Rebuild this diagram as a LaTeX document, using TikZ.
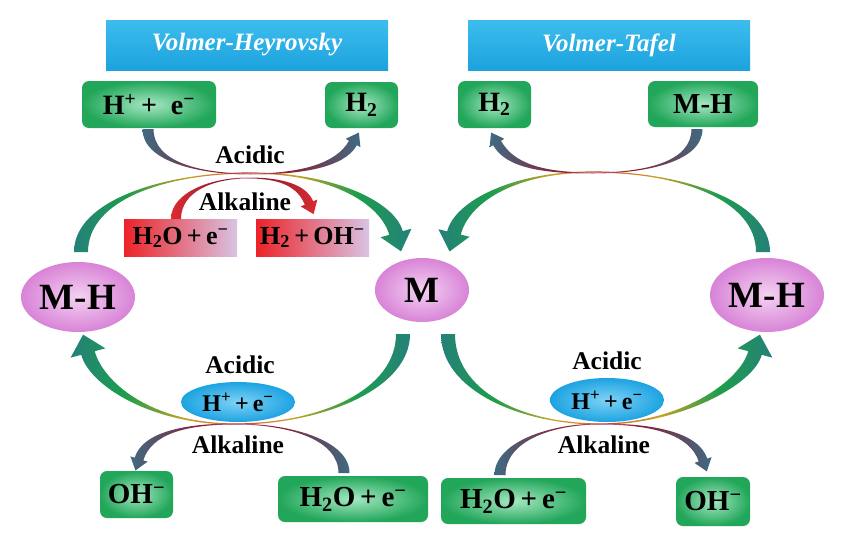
\documentclass[tikz,border=0pt]{standalone}
\usepackage{fontspec}
\setmainfont{Liberation Serif}
\usetikzlibrary{calc,shapes.geometric}

\definecolor{tealA}{HTML}{25807A}
\definecolor{greenA}{HTML}{1C9E4C}
\definecolor{yellowA}{HTML}{C8A226}
\definecolor{orangeA}{HTML}{D07A2A}
\definecolor{redA}{HTML}{B8353A}
\definecolor{slateA}{HTML}{3E6B82}
\definecolor{maroonA}{HTML}{8E1E33}
\definecolor{pinkA}{HTML}{C87484}
\definecolor{redB}{HTML}{DC2A30}
\definecolor{gLight}{HTML}{A6E8C2}
\definecolor{gDark}{HTML}{22A65A}
\definecolor{rDark}{HTML}{EC2328}
\definecolor{rLight}{HTML}{D9C3E3}
\definecolor{pLight}{HTML}{F4D2F1}
\definecolor{pDark}{HTML}{D883D7}
\definecolor{bLight}{HTML}{7ED2F5}
\definecolor{bDark}{HTML}{1DA3E2}
\definecolor{tLight}{HTML}{3DBDEE}
\definecolor{tDark}{HTML}{1CA2DD}

\pgfdeclarehorizontalshading{bigarc}{100bp}{color(0bp)=(tealA); color(25bp)=(tealA); color(33bp)=(greenA); color(42bp)=(yellowA); color(47bp)=(orangeA); color(50bp)=(redA); color(53bp)=(orangeA); color(58bp)=(yellowA); color(67bp)=(greenA); color(75bp)=(tealA); color(100bp)=(tealA)}
\pgfdeclarehorizontalshading{smallarc}{100bp}{color(0bp)=(slateA); color(25bp)=(slateA); color(42bp)=(maroonA); color(50bp)=(pinkA); color(58bp)=(maroonA); color(75bp)=(slateA); color(100bp)=(slateA)}
\pgfdeclarehorizontalshading{redarc}{100bp}{color(0bp)=(redB); color(25bp)=(redB); color(44bp)=(maroonA); color(50bp)=(pinkA); color(56bp)=(maroonA); color(75bp)=(redB); color(100bp)=(redB)}

\newcommand{\arrowpts}[8]{%
  \coordinate (#1A) at #2; \coordinate (#1A1) at #3; \coordinate (#1B1) at #4;
  \coordinate (#1X) at #5; \coordinate (#1C1) at #6; \coordinate (#1N1) at #7;
  \coordinate (#1N) at #8;}

\newcommand{\taperpath}[6]{%
  ($(#1A)!#2!90:(#1A1)$) .. controls ($(#1A1)!#2!-90:(#1A)$) and ($(#1B1)!#3!90:(#1X)$) .. ($(#1X)!#3!90:(#1C1)$)
  .. controls ($(#1C1)!#3!-90:(#1X)$) and ($(#1N1)!#4!90:(#1N)$) .. ($(#1N)!#4!-90:(#1N1)$)
  -- ($(#1N)!#5!-90:(#1N1)$) -- ($(#1N)!#6!180:(#1N1)$) -- ($(#1N)!#5!90:(#1N1)$) -- ($(#1N)!#4!90:(#1N1)$)
  .. controls ($(#1N1)!#4!-90:(#1N)$) and ($(#1C1)!#3!90:(#1X)$) .. ($(#1X)!#3!-90:(#1C1)$)
  .. controls ($(#1B1)!#3!-90:(#1X)$) and ($(#1A1)!#2!90:(#1A)$) .. ($(#1A)!#2!-90:(#1A1)$) -- cycle}

\begin{document}
\begin{tikzpicture}[x=1pt,y=-1pt,
  gbox/.style={rounded corners=7pt, shade, inner color=gLight, outer color=gDark, inner sep=0pt, font=\bfseries\fontsize{28}{28}\selectfont},
  rbox/.style={shade, left color=rDark, right color=rLight, inner sep=0pt, minimum width=113pt, minimum height=37pt, font=\bfseries\fontsize{26}{26}\selectfont},
  pell/.style={ellipse, shade, inner color=pLight, outer color=pDark, inner sep=0pt, font=\bfseries\fontsize{37}{37}\selectfont},
  bell/.style={ellipse, shade, inner color=bLight, outer color=bDark, inner sep=0pt, minimum width=114pt, font=\bfseries\fontsize{24}{24}\selectfont},
  tbox/.style={shade, top color=tLight, bottom color=tDark, text=white, inner sep=0pt, minimum width=282pt, minimum height=50pt, font=\bfseries\itshape\fontsize{25}{25}\selectfont},
  lbl/.style={inner sep=0pt, font=\bfseries\fontsize{25.5}{25.5}\selectfont},
  bigarrow/.style={shade, shading=bigarc, shading angle=0},
  smallarrow/.style={shade, shading=smallarc, shading angle=0},
  redarrow/.style={shade, shading=redarc, shading angle=0}
]
\useasboundingbox (0,0) rectangle (844,547);
\fill[white] (0,0) rectangle (844,547);

% titles
\node[tbox] (t1) at (247,45) {Volmer-Heyrovsky};
\node[tbox] (t2) at (609,45) {Volmer-Tafel};

% green boxes top
\node[gbox, minimum width=134pt, minimum height=47pt] (gHe) at (149,104.5) {H\textsuperscript{+}\,+\ \ e\textsuperscript{−}};
\node[gbox, minimum width=73pt, minimum height=46pt] (gH2a) at (361.5,105) {H\textsubscript{2}};
\node[gbox, minimum width=73pt, minimum height=47pt] (gH2b) at (494.5,104.5) {H\textsubscript{2}};
\node[gbox, minimum width=110pt, minimum height=46pt, font=\bfseries\fontsize{29}{29}\selectfont] (gMH) at (703,104) {M-H};

% red boxes
\node[rbox] (rH2O) at (180.5,237.5) {H\textsubscript{2}O\,+\,e\textsuperscript{−}};
\node[rbox] (rH2OH) at (312.5,237.5) {H\textsubscript{2}\,+\,OH\textsuperscript{−}};

% ellipses
\node[pell, minimum width=114pt, minimum height=70pt] (MHl) at (78,297) {M-H};
\node[pell, minimum width=94pt, minimum height=64pt] (M) at (422,290) {M};
\node[pell, minimum width=114pt, minimum height=74pt] (MHr) at (767,295) {M-H};
\node[bell, minimum height=40pt] (BEl) at (238,402) {H\textsuperscript{+}\,+\,e\textsuperscript{−}};
\node[bell, minimum height=44pt] (BEr) at (607,400) {H\textsuperscript{+}\,+\,e\textsuperscript{−}};

% bottom green boxes
\node[gbox, minimum width=73pt, minimum height=47pt, font=\bfseries\fontsize{29}{29}\selectfont] (gOHa) at (136.5,494.5) {OH\textsuperscript{−}};
\node[gbox, minimum width=150pt, minimum height=46pt, font=\bfseries\fontsize{29}{29}\selectfont] (gH2Oa) at (353,499) {H\textsubscript{2}O\,+\,e\textsuperscript{−}};
\node[gbox, minimum width=145pt, minimum height=46pt, font=\bfseries\fontsize{29}{29}\selectfont] (gH2Ob) at (513.5,501) {H\textsubscript{2}O\,+\,e\textsuperscript{−}};
\node[gbox, minimum width=74pt, minimum height=49pt, font=\bfseries\fontsize{29}{29}\selectfont] (gOHb) at (713,501.5) {OH\textsuperscript{−}};

% labels
\node[lbl] (ac1) at (250,155) {Acidic};
\node[lbl] (al1) at (245,202) {Alkaline};
\node[lbl] (ac2) at (240,365) {Acidic};
\node[lbl] (al2) at (238,445) {Alkaline};
\node[lbl] (ac3) at (607,361) {Acidic};
\node[lbl] (al3) at (604,445) {Alkaline};

% arrows
\arrowpts{tlb}{(81,252)}{(81,200)}{(165,173)}{(250,173)}{(335,173)}{(388,204)}{(396,233)}
\path[bigarrow] \taperpath{tlb}{7pt}{0.6pt}{7pt}{16pt}{19pt};
\arrowpts{trb}{(763,252)}{(763,200)}{(680,172)}{(593,172)}{(510,172)}{(461,204)}{(454,233)}
\path[bigarrow] \taperpath{trb}{7pt}{0.6pt}{7pt}{16pt}{19pt};
\arrowpts{blb}{(403,334)}{(403,390)}{(320,424)}{(235,424)}{(150,424)}{(96,383)}{(88,353)}
\path[bigarrow] \taperpath{blb}{7pt}{0.6pt}{7pt}{18pt}{19pt};
\arrowpts{brb}{(448,334)}{(448,390)}{(520,424)}{(600,424)}{(680,424)}{(747,383)}{(755,353)}
\path[bigarrow] \taperpath{brb}{7pt}{0.6pt}{7pt}{18pt}{19pt};

\arrowpts{tls}{(148,129)}{(148,162)}{(200,174)}{(250,174)}{(300,174)}{(340,166)}{(353,143)}
\path[smallarrow] \taperpath{tls}{5.5pt}{0.5pt}{4.5pt}{8.5pt}{12pt};
\arrowpts{trs}{(697,129)}{(697,162)}{(645,173)}{(593,173)}{(543,173)}{(510,166)}{(497,143)}
\path[smallarrow] \taperpath{trs}{5.5pt}{0.5pt}{4.5pt}{8.5pt}{12pt};
\arrowpts{bls}{(344,473)}{(344,440)}{(290,424)}{(235,424)}{(185,424)}{(147,433)}{(139,459)}
\path[smallarrow] \taperpath{bls}{5.5pt}{0.5pt}{4.5pt}{9pt}{12pt};
\arrowpts{brs}{(500,475)}{(500,442)}{(550,424)}{(600,424)}{(652,424)}{(694,433)}{(703,460)}
\path[smallarrow] \taperpath{brs}{5.5pt}{0.5pt}{4.5pt}{9pt}{12pt};

\arrowpts{red}{(176,219)}{(176,192)}{(212,178)}{(248,178)}{(282,178)}{(302,186)}{(309,203)}
\path[redarrow] \taperpath{red}{5pt}{0.5pt}{4.5pt}{9pt}{12pt};
\end{tikzpicture}
\end{document}
